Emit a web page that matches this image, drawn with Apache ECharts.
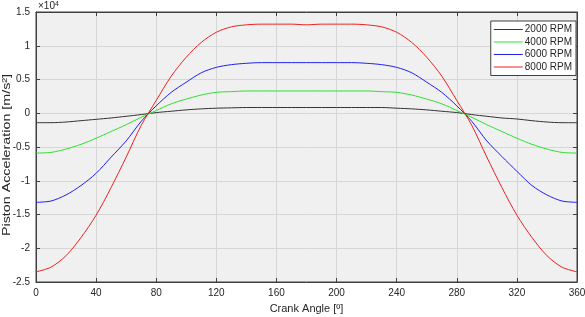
<!DOCTYPE html>
<html><head><meta charset="utf-8">
<script src="https://cdn.jsdelivr.net/npm/echarts@6/dist/echarts.min.js"></script>
<style>html,body{margin:0;padding:0;background:#fff}#c{width:585px;height:317px}</style>
</head><body><div id="c"></div>
<script>
// Crank angle [deg], values in units of 10^4 m/s^2
const angles = [0,10,20,30,40,50,60,70,80,90,100,110,120,130,140,150,160,170,180,190,200,210,220,230,240,250,260,270,280,290,300,310,320,330,340,350,360];
const rpm2000 = [-0.14,-0.14,-0.13,-0.11,-0.09,-0.07,-0.045,-0.02,0.01,0.03,0.05,0.065,0.075,0.08,0.085,0.085,0.085,0.085,0.085,0.085,0.085,0.085,0.085,0.085,0.075,0.065,0.05,0.03,0.01,-0.02,-0.045,-0.07,-0.085,-0.11,-0.13,-0.14,-0.14];
const rpm4000 = [-0.59,-0.58,-0.53,-0.46,-0.37,-0.27,-0.17,-0.06,0.04,0.14,0.21,0.27,0.31,0.32,0.33,0.33,0.33,0.33,0.33,0.33,0.33,0.33,0.33,0.32,0.31,0.27,0.21,0.14,0.04,-0.06,-0.17,-0.27,-0.37,-0.46,-0.53,-0.58,-0.59];
const rpm6000 = [-1.32,-1.30,-1.21,-1.07,-0.89,-0.65,-0.41,-0.12,0.11,0.31,0.46,0.60,0.68,0.72,0.74,0.75,0.75,0.75,0.75,0.75,0.75,0.75,0.74,0.72,0.68,0.60,0.46,0.31,0.11,-0.12,-0.41,-0.64,-0.86,-1.07,-1.21,-1.30,-1.32];
const rpm8000 = [-2.35,-2.28,-2.11,-1.84,-1.51,-1.10,-0.65,-0.18,0.19,0.55,0.83,1.05,1.20,1.28,1.31,1.32,1.32,1.32,1.31,1.32,1.32,1.32,1.31,1.28,1.20,1.05,0.83,0.55,0.19,-0.18,-0.65,-1.10,-1.51,-1.84,-2.11,-2.28,-2.35];
const seriesNames = ['2000 RPM','4000 RPM','6000 RPM','8000 RPM'];
const seriesColors = ['#333333','#2ee02e','#2020ee','#ee2020'];
const yTitle = 'Piston Acceleration [m/s²]';
const xTitle = 'Crank Angle [º]';

const FONT = '"Liberation Sans", Arial, sans-serif';
const AX = '#404040';
const chart = echarts.init(document.getElementById('c'), null, {renderer:'canvas'});
const allData = [rpm2000, rpm4000, rpm6000, rpm8000];
const axisCommon = {
  axisLine:{show:true, onZero:false, lineStyle:{color:AX, width:1}},
  axisTick:{show:true, inside:true, length:4, lineStyle:{color:AX}},
};
chart.setOption({
  animation:false,
  backgroundColor:'#ffffff',
  textStyle:{fontFamily:FONT},
  grid:{left:36, right:8, top:12, bottom:35, containLabel:false, outerBoundsMode:'none',
    show:true, backgroundColor:'#f0f0f0', borderColor:AX, borderWidth:1},
  legend:{
    orient:'vertical', right:9, top:21,
    data:seriesNames, icon:'rect',
    backgroundColor:'#ffffff', borderColor:AX, borderWidth:1,
    padding:[3,4,3,3], itemGap:1.5, itemWidth:29, itemHeight:1,
    textStyle:{fontSize:10, color:'#262626', fontFamily:FONT, lineHeight:11, padding:[0,0,0,-3]}
  },
  xAxis:[
    Object.assign({type:'value', min:0, max:360, interval:40, position:'bottom',
      name:xTitle, nameLocation:'middle', nameGap:21, nameMoveOverlap:false,
      nameTextStyle:{fontSize:11, color:'#262626', verticalAlign:'top'},
      axisLabel:{fontSize:10, color:'#262626', margin:6},
      splitLine:{show:true, lineStyle:{color:'#d6d6d6', width:1}}}, axisCommon),
    Object.assign({type:'value', min:0, max:360, interval:40, position:'top',
      axisLabel:{show:false}, splitLine:{show:false}}, axisCommon)
  ],
  yAxis:[
    Object.assign({type:'value', min:-2.5, max:1.5, interval:0.5, position:'left',
      axisLabel:{fontSize:10, color:'#262626', margin:6, formatter:v=>String(v)},
      splitLine:{show:true, lineStyle:{color:'#d6d6d6', width:1}}}, axisCommon),
    Object.assign({type:'value', min:-2.5, max:1.5, interval:0.5, position:'right',
      axisLabel:{show:false}, splitLine:{show:false}}, axisCommon)
  ],
  graphic:[{
    type:'text', left:38, top:1,
    style:{
      text:'{a|×10}{b|4}',
      rich:{a:{fontSize:10, fill:'#262626', fontFamily:FONT, lineHeight:11}, b:{fontSize:7, fill:'#262626', fontFamily:FONT, verticalAlign:'top', lineHeight:7}}
    }
  },{
    type:'text', x:7, y:155, rotation:Math.PI/2, scaleX:1.3,
    style:{text:yTitle, fontSize:11, fontFamily:FONT, fill:'#262626', align:'center', verticalAlign:'middle'}
  }],
  series: seriesNames.map((n,i)=>({
    name:n, type:'line', xAxisIndex:0, yAxisIndex:0,
    data: angles.map((a,k)=>[a, allData[i][k]]),
    smooth:0.3, symbol:'none', showSymbol:false,
    lineStyle:{color:seriesColors[i], width:1},
    itemStyle:{color:seriesColors[i]}
  }))
});
</script></body></html>
